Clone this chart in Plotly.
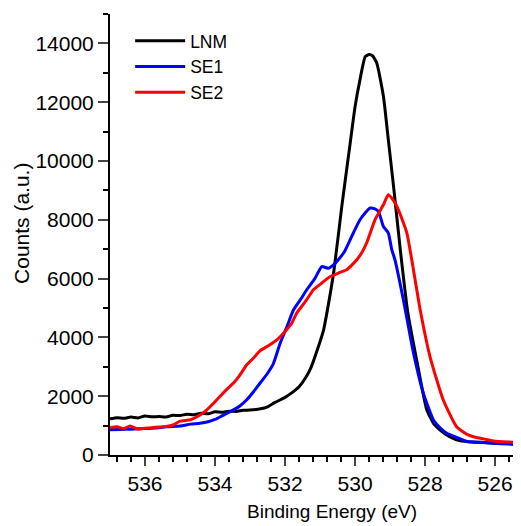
import plotly.graph_objects as go

# Binding energy (eV) and counts for each sample
lnm_x = [537.0, 536.8, 536.6, 536.4, 536.2, 536.0, 535.8, 535.6, 535.4, 535.2, 535.0, 534.8, 534.6,
         534.4, 534.2, 534.0, 533.8, 533.6, 533.4, 533.2, 533.0, 532.7, 532.5, 532.3, 532.0, 531.8,
         531.6, 531.4, 531.25, 531.1, 530.9, 530.75, 530.6, 530.38, 530.14, 530.0, 529.86, 529.71,
         529.6, 529.5, 529.38, 529.19, 529.05, 528.9, 528.7, 528.5, 528.24, 527.95, 527.75, 527.57,
         527.3, 527.0, 526.5, 526.0, 525.25]
lnm_y = [1230, 1270, 1250, 1290, 1260, 1330, 1300, 1310, 1290, 1350, 1340, 1390, 1370,
         1420, 1400, 1470, 1450, 1490, 1480, 1520, 1530, 1570, 1640, 1780, 1960, 2120,
         2320, 2650, 3000, 3500, 4250, 5200, 6300, 8450, 10600, 11850, 12760, 13550,
         13620, 13580, 13330, 12200, 10720, 9130, 6900, 4900, 3230, 1530, 1060, 850,
         620, 480, 430, 400, 380]

se1_x = [537.0, 536.7, 536.4, 536.0, 535.7, 535.4, 535.0, 534.7, 534.43, 534.2, 534.0, 533.8,
         533.57, 533.3, 533.1, 532.9, 532.71, 532.5, 532.33, 532.14, 531.95, 531.76, 531.55,
         531.38, 531.15, 530.95, 530.76, 530.6, 530.48, 530.3, 530.05, 529.86, 529.7, 529.57,
         529.45, 529.33, 529.19, 529.05, 528.95, 528.86, 528.62, 528.33, 528.05, 527.76,
         527.55, 527.38, 527.1, 526.81, 526.4, 526.05, 525.6, 525.25]
se1_y = [860, 870, 880, 900, 920, 960, 990, 1050, 1080, 1130, 1210, 1330,
         1470, 1660, 1870, 2150, 2450, 2780, 3120, 3800, 4350, 4930, 5300,
         5620, 6000, 6410, 6350, 6480, 6640, 6920, 7550, 8000, 8250, 8400,
         8380, 8280, 7770, 7550, 6980, 6640, 5280, 3460, 2100, 1190,
         900, 740, 600, 460, 430, 400, 370, 340]

se2_x = [537.0, 536.8, 536.6, 536.43, 536.2, 536.0, 535.8, 535.6, 535.4, 535.2, 535.0, 534.7,
         534.43, 534.24, 534.05, 533.86, 533.65, 533.48, 533.3, 533.1, 532.9, 532.71, 532.43,
         532.2, 532.0, 531.8, 531.67, 531.4, 531.19, 530.95, 530.71, 530.45, 530.24, 530.1,
         529.95, 529.8, 529.67, 529.43, 529.19, 529.05, 528.9, 528.76, 528.52, 528.38, 528.14,
         527.86, 527.48, 527.1, 526.8, 526.62, 526.3, 526.05, 525.6, 525.25]
se2_y = [930, 960, 900, 990, 880, 910, 930, 950, 970, 1020, 1150, 1200,
         1360, 1530, 1750, 1990, 2250, 2440, 2700, 3060, 3300, 3550, 3750,
         3950, 4200, 4500, 4820, 5250, 5620, 5850, 6070, 6200, 6300, 6450,
         6640, 6900, 7210, 8000, 8510, 8850, 8650, 8340, 7550, 6640, 4940,
         3350, 1870, 960, 700, 620, 540, 480, 440, 420]

series = [("LNM", lnm_x, lnm_y, "#000000"),
          ("SE1", se1_x, se1_y, "#0000ff"),
          ("SE2", se2_x, se2_y, "#ff0000")]

x_ticks = [536, 534, 532, 530, 528, 526]
y_ticks = [0, 2000, 4000, 6000, 8000, 10000, 12000, 14000]
y_tick_labels = ["0", "2000", "4000", "6000", "8000", "10000", "12000", "14000"]

fig = go.Figure()
for name, xs, ys, col in series:
    fig.add_trace(go.Scatter(x=xs, y=ys, mode="lines", name=name,
                             line=dict(color=col, width=3, shape="spline", smoothing=0.5)))

font = "Liberation Sans, Arial, sans-serif"
# page body has an 8px margin, so the figure is sized/margined to compensate
fig.update_layout(
    width=513, height=518,
    margin=dict(l=102, r=0, t=6, b=71, autoexpand=False),
    paper_bgcolor="white", plot_bgcolor="white",
    font=dict(family=font, size=20, color="black"),
    showlegend=True,
    legend=dict(x=0.049, y=0.98, xanchor="left", yanchor="top",
                bgcolor="rgba(0,0,0,0)", font=dict(size=17.5),
                tracegroupgap=0, itemwidth=50),
    xaxis=dict(range=[537, 525.26], tickvals=x_ticks, ticks="outside", ticklen=9,
               tickwidth=2, showline=True, linewidth=2, linecolor="black",
               showgrid=False, zeroline=False, tickfont=dict(size=21), automargin=False,
               minor=dict(dtick=0.4, tick0=536, ticks="outside", ticklen=5, tickwidth=2, tickcolor="black")),
    yaxis=dict(range=[0, 15000], tickvals=y_ticks, ticktext=y_tick_labels, ticks="outside", ticklen=10,
               tickwidth=2, showline=True, linewidth=2, linecolor="black",
               showgrid=False, zeroline=False, tickfont=dict(size=21), automargin=False,
               minor=dict(dtick=1000, ticks="outside", ticklen=5, tickwidth=2, tickcolor="black")),
    annotations=[
        dict(text="Binding Energy (eV)", xref="paper", yref="paper", x=0.539, y=-0.127,
             xanchor="center", yanchor="middle", showarrow=False, font=dict(size=19)),
        dict(text="Counts (a.u.)", xref="paper", yref="paper", x=-0.214, y=0.524,
             xanchor="center", yanchor="middle", showarrow=False, textangle=-90,
             font=dict(size=21)),
    ],
)

fig.write_html("out.html")
